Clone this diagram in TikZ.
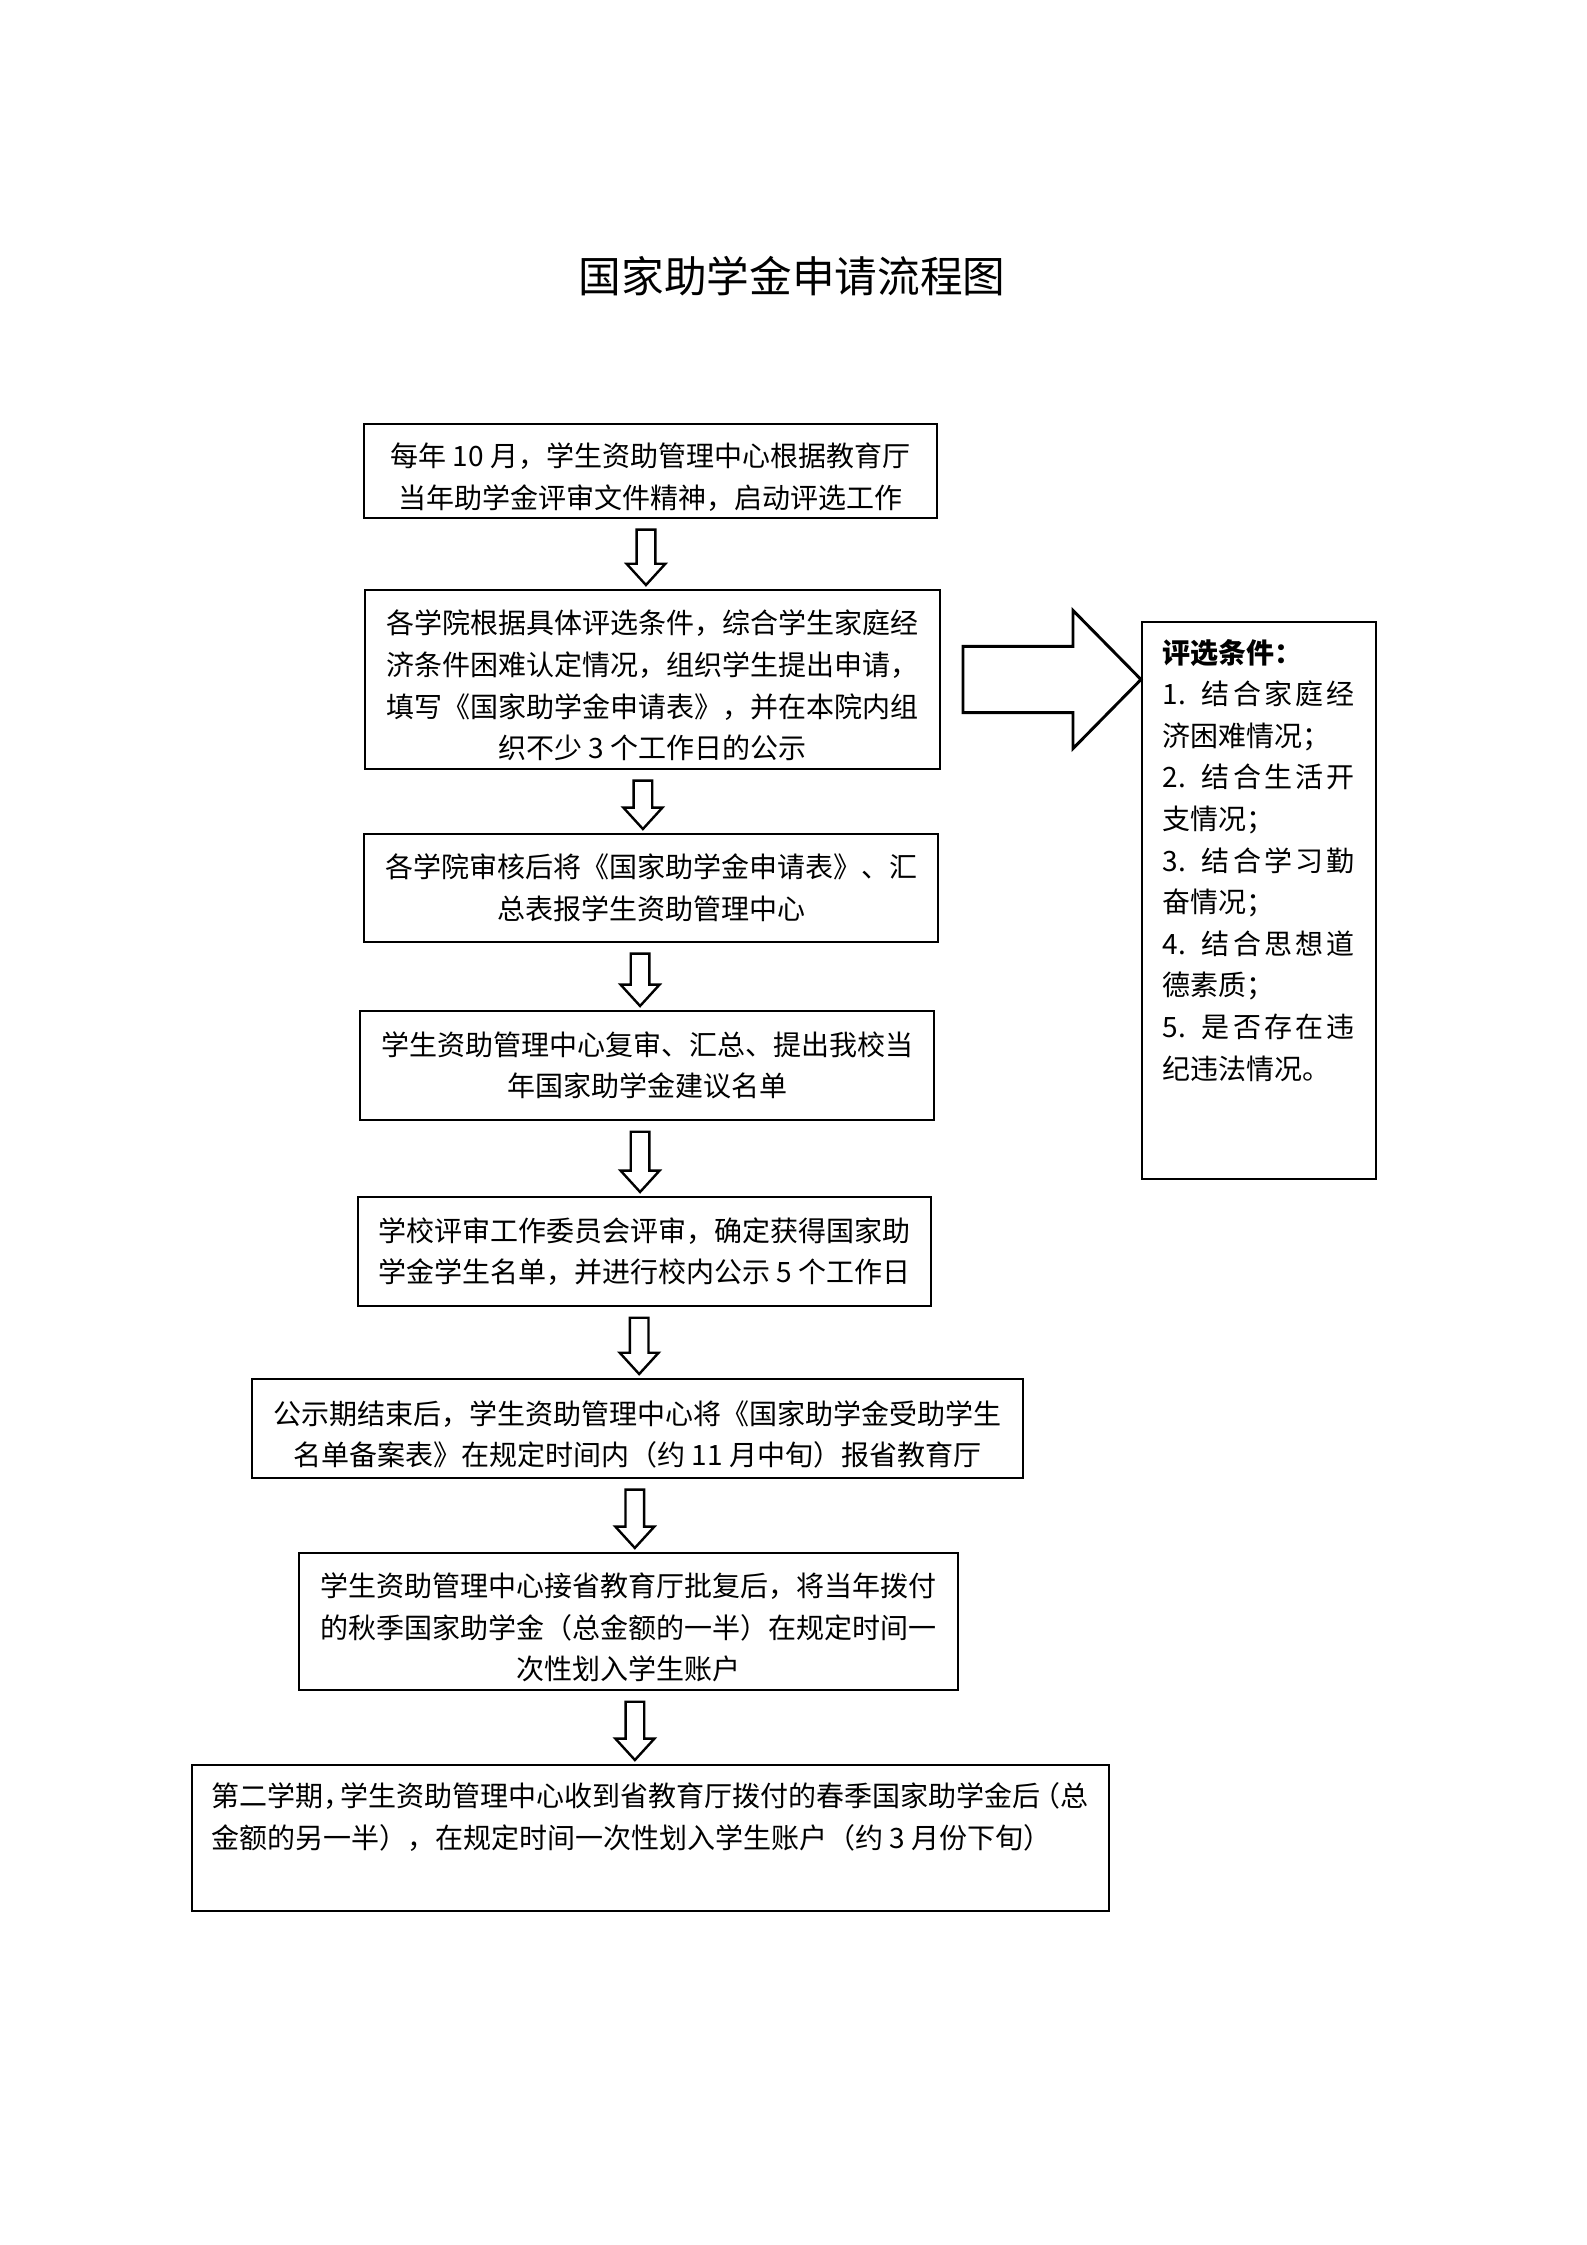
\documentclass[tikz,border=0pt]{standalone}
\usepackage{fontspec}
\setmainfont{Noto Sans CJK SC}
\usetikzlibrary{calc}
\newcommand\bodyfont{\fontsize{10.5pt}{15.6pt}\selectfont}
\newcommand\tstrut{\rule{0pt}{13.4pt}}
\tikzset{
  flowbox/.style={draw, line width=0.75pt, inner sep=0pt, align=center, font=\bodyfont},
  arr/.style={draw, line width=0.9pt, fill=white, line join=miter},
  bigarr/.style={draw, line width=1.1pt, fill=white, line join=miter},
  plaintext/.style={inner sep=0pt, align=left, font=\bodyfont},
}
\newcommand\flowarrow[3]{%
  \draw[arr] let \p1=(#1.south), \p2=(#2.north) in
    (\x1+#3-3.5pt,\y1-4pt) -- (\x1+#3+3.5pt,\y1-4pt) -- (\x1+#3+3.5pt,\y2+9.5pt)
    -- (\x1+#3+7.3pt,\y2+9.5pt) -- (\x1+#3,\y2+1.5pt) -- (\x1+#3-7.3pt,\y2+9.5pt)
    -- (\x1+#3-3.5pt,\y2+9.5pt) -- cycle;}
\begin{document}
\begin{tikzpicture}[x=0.375pt, y=-0.375pt]
\useasboundingbox (0,0) rectangle (1587,2245);
\node[font=\fontsize{16pt}{19pt}\selectfont, inner sep=0pt] (title) at (792,276) {国家助学金申请流程图};

\node[flowbox, minimum width=214.9pt, minimum height=35.25pt] (b1) at (650.5,471)
  {\tstrut 每年 10 月，学生资助管理中心根据教育厅\\当年助学金评审文件精神，启动评选工作};
\node[flowbox, minimum width=215.6pt, minimum height=67.1pt] (b2) at (652.5,679.5)
  {\tstrut 各学院根据具体评选条件，综合学生家庭经\\济条件困难认定情况，组织学生提出申请，\\填写《国家助学金申请表》，并在本院内组\\织不少 3 个工作日的公示};
\node[flowbox, minimum width=215.25pt, minimum height=40.5pt] (b3) at (651,888)
  {各学院审核后将《国家助学金申请表》、汇\\总表报学生资助管理中心};
\node[flowbox, minimum width=215.25pt, minimum height=40.9pt] (b4) at (647,1065.5)
  {学生资助管理中心复审、汇总、提出我校当\\年国家助学金建议名单};
\node[flowbox, minimum width=214.9pt, minimum height=40.9pt] (b5) at (644.5,1251.5)
  {学校评审工作委员会评审，确定获得国家助\\学金学生名单，并进行校内公示 5 个工作日};
\node[flowbox, minimum width=289.1pt, minimum height=37.1pt] (b6) at (637.5,1428.5)
  {\tstrut 公示期结束后，学生资助管理中心将《国家助学金受助学生\\名单备案表》在规定时间内（约 11 月中旬）报省教育厅};
\node[flowbox, minimum width=247.1pt, minimum height=51.4pt] (b7) at (628.5,1621.5)
  {\tstrut 学生资助管理中心接省教育厅批复后，将当年拨付\\的秋季国家助学金（总金额的一半）在规定时间一\\次性划入学生账户};
\node[draw, line width=0.75pt, inner sep=0pt, minimum width=343.9pt, minimum height=54.75pt] (b8) at (650.5,1838) {};
\node[plaintext, anchor=north west] (b8text) at ([xshift=7.5pt, yshift=-6.8pt]b8.north west)
  {第二学期，\kern-4pt学生资助管理中心收到省教育厅拨付的春季国家助学金后\kern-3pt（总\\金额的另一半），在规定时间一次性划入学生账户（约 3 月份下旬）};

\node[draw, line width=0.75pt, inner sep=0pt, minimum width=87.75pt, minimum height=208.9pt] (side) at (1259,900.5) {};
\node[plaintext, anchor=north west] (sidetext) at ([xshift=7.9pt, yshift=-6.6pt]side.north west)
  {\textbf{评选条件：}\\
   \hbox to 72pt{1.\kern6pt 结\hfill 合\hfill 家\hfill 庭\hfill 经}\\
   济困难情况；\\
   \hbox to 72pt{2.\kern6pt 结\hfill 合\hfill 生\hfill 活\hfill 开}\\
   支情况；\\
   \hbox to 72pt{3.\kern6pt 结\hfill 合\hfill 学\hfill 习\hfill 勤}\\
   奋情况；\\
   \hbox to 72pt{4.\kern6pt 结\hfill 合\hfill 思\hfill 想\hfill 道}\\
   德素质；\\
   \hbox to 72pt{5.\kern6pt 是\hfill 否\hfill 存\hfill 在\hfill 违}\\
   纪违法情况。};

\flowarrow{b1}{b2}{-1.7pt}
\flowarrow{b2}{b3}{-3.6pt}
\flowarrow{b3}{b4}{-4.1pt}
\flowarrow{b4}{b5}{-2.6pt}
\flowarrow{b5}{b6}{-2pt}
\flowarrow{b6}{b7}{-1pt}
\flowarrow{b7}{b8}{2.4pt}

\draw[bigarr] let \p1=(b2.east), \p2=(side.west) in
  (\x1+8.25pt,\y1+12.4pt) -- (\x2-25.5pt,\y1+12.4pt) -- (\x2-25.5pt,\y1+25.9pt)
  -- (\x2,\y1) -- (\x2-25.5pt,\y1-25.9pt) -- (\x2-25.5pt,\y1-12.4pt)
  -- (\x1+8.25pt,\y1-12.4pt) -- cycle;
\end{tikzpicture}
\end{document}
